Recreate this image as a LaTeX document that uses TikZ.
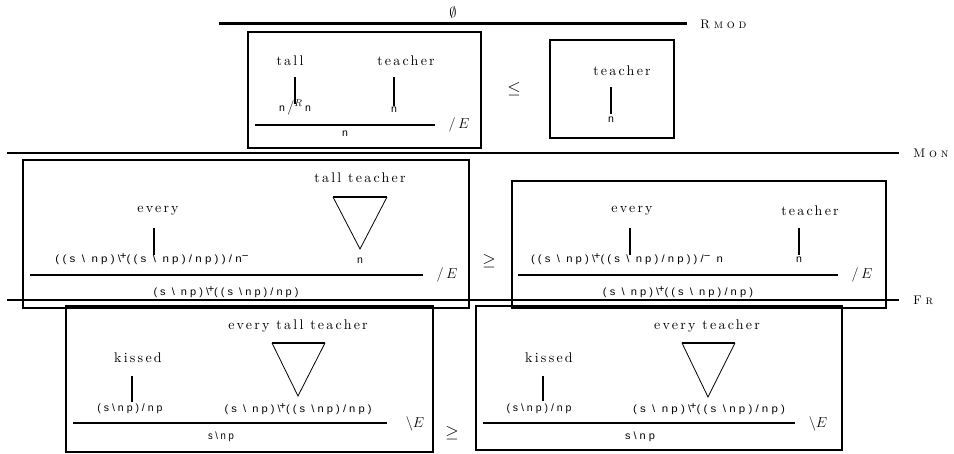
\documentclass[tikz,border=0pt]{standalone}
\usepackage{graphicx}
\usepackage{fontspec}
\newfontfamily\catfont[LetterSpace=28]{Liberation Sans}
\newfontfamily\wordfont{lmroman10-regular.otf}[LetterSpace=16]
\newfontfamily\scfont{lmromancaps10-regular.otf}[LetterSpace=30]
\newcommand\spw[1]{{\fontsize{14}{16}\wordfont #1}}
\newcommand\lab[1]{{\fontsize{12.5}{14}\scfont #1}}
\newcommand\catn[1]{{\fontsize{10.5}{11}\catfont #1}}
\newcommand\catt[2]{\resizebox{#1}{\height}{\catn{#2}}}
\newcommand\bsplus{\textbackslash\kern-1.2pt\raisebox{2.6pt}{+}}
\newcommand\bsl{\textbackslash}
\newcommand\supm{\raisebox{3pt}{−}}
\tikzset{
  txt/.style={inner sep=0pt, outer sep=0pt},
  boxline/.style={line width=1.8pt},
  rule/.style={line width=2pt},
  thinrule/.style={line width=1.5pt},
  stem/.style={line width=1.8pt},
  triside/.style={line width=0.8pt},
  tritop/.style={line width=2pt},
  mth/.style={inner sep=0pt, font=\fontsize{14}{16}\selectfont},
  rel/.style={inner sep=0pt, font=\fontsize{16}{18}\selectfont},
}
\begin{document}
\begin{tikzpicture}[x=1pt,y=-1pt]
\useasboundingbox (0,0) rectangle (954,453);

% ---------- top: RMOD ----------
\node[mth] (empty) at (453,12) {$\emptyset$};
\coordinate (topL) at (219,23);
\coordinate (topR) at (687,23);
\draw[line width=3pt] (topL) -- (topR);
\node[txt, anchor=west] (rmod) at (700,24) {\lab{Rmod}};

% box 1
\node[draw, boxline, minimum width=233pt, minimum height=116pt, anchor=north west] (b1) at (247,31) {};
\node[txt] (w1a) at (290,61) {\spw{tall}};
\node[txt] (w1b) at (406,61) {\spw{teacher}};
\coordinate (s1at) at (295,77); \coordinate (s1ab) at (295,104);
\coordinate (s1bt) at (394,77); \coordinate (s1bb) at (394,106);
\draw[stem] (s1at) -- (s1ab);
\draw[stem] (s1bt) -- (s1bb);
\node[txt] (c1a) at (295,107) {\catn{n}\hspace{2.5pt}{\fontsize{14}{16}\selectfont$/^{R}$}\hspace{2.5pt}\catn{n}};
\node[txt] (c1b) at (394,110) {\catn{n}};
\coordinate (r1L) at (255,125); \coordinate (r1R) at (435,125);
\draw[rule] (r1L) -- (r1R);
\node[txt] (c1c) at (345,134) {\catn{n}};
\node[mth] (e1) at (459,125) {$/\,E$};

\node[rel] (leq) at (514,89) {$\leq$};

% box 2
\node[draw, boxline, minimum width=124pt, minimum height=98pt, anchor=north west] (b2) at (549,39) {};
\node[txt] (w2a) at (622,71) {\spw{teacher}};
\coordinate (s2t) at (611,87); \coordinate (s2b) at (611,114);
\draw[stem] (s2t) -- (s2b);
\node[txt] (c2a) at (611,120) {\catn{n}};

% ---------- MON ----------
\coordinate (monL) at (7,153); \coordinate (monR) at (899,153);
\draw[thinrule] (monL) -- (monR);
\node[txt, anchor=west] (mon) at (913,153) {\lab{Mon}};

% box 3
\node[draw, boxline, minimum width=446pt, minimum height=148pt, anchor=north west] (b3) at (22,159) {};
\node[txt] (w3a) at (360,178) {\spw{tall teacher}};
\node[txt] (w3b) at (158,211) {\spw{every}};
\coordinate (t3l) at (333,197); \coordinate (t3r) at (387,197); \coordinate (t3a) at (360,249);
\draw[triside] (t3l) -- (t3a) -- (t3r);
\draw[tritop] (t3l) -- (t3r);
\coordinate (s3t) at (154,228); \coordinate (s3b) at (154,255);
\draw[stem] (s3t) -- (s3b);
\node[txt] (c3a) at (152,259) {\catt{193pt}{((s \bsl{} np)\bsplus((s \bsl{} np)/np))/n\supm}};
\node[txt] (c3b) at (360,261) {\catn{n}};
\coordinate (r3L) at (30,275); \coordinate (r3R) at (423,275);
\draw[rule] (r3L) -- (r3R);
\node[txt] (c3c) at (226,292) {\catt{145pt}{(s \bsl{} np)\bsplus((s \bsl np)/np)}};
\node[mth] (e3) at (447,275) {$/\,E$};

\node[rel] (geq1) at (489,261) {$\geq$};

% box 4
\node[draw, boxline, minimum width=374pt, minimum height=127pt, anchor=north west] (b4) at (511,180) {};
\node[txt] (w4a) at (632,211) {\spw{every}};
\node[txt] (w4b) at (810,211) {\spw{teacher}};
\coordinate (s4at) at (630,228); \coordinate (s4ab) at (630,255);
\coordinate (s4bt) at (799,228); \coordinate (s4bb) at (799,255);
\draw[stem] (s4at) -- (s4ab);
\draw[stem] (s4bt) -- (s4bb);
\node[txt] (c4a) at (627,259) {\catt{192pt}{((s \bsl{} np)\bsplus((s \bsl{} np)/np))/\supm{} n}};
\node[txt] (c4b) at (799,260) {\catn{n}};
\coordinate (r4L) at (518,275); \coordinate (r4R) at (838,275);
\draw[rule] (r4L) -- (r4R);
\node[txt] (c4c) at (678,292) {\catt{150pt}{(s \bsl{} np)\bsplus((s \bsl{} np)/np)}};
\node[mth] (e4) at (862,275) {$/\,E$};

% ---------- FR ----------
\coordinate (frL) at (7,300); \coordinate (frR) at (899,300);
\draw[thinrule] (frL) -- (frR);
\node[txt, anchor=west] (fr) at (913,300) {\lab{Fr}};

% box 5
\node[draw, boxline, minimum width=367pt, minimum height=146pt, anchor=north west] (b5) at (65,305) {};
\node[txt] (w5a) at (298,326) {\spw{every tall teacher}};
\node[txt] (w5b) at (138,358) {\spw{kissed}};
\coordinate (t5l) at (272,343); \coordinate (t5r) at (325,343); \coordinate (t5a) at (298,396);
\draw[triside] (t5l) -- (t5a) -- (t5r);
\draw[tritop] (t5l) -- (t5r);
\coordinate (s5t) at (132,376); \coordinate (s5b) at (132,402);
\draw[stem] (s5t) -- (s5b);
\node[txt] (c5a) at (130,409) {\catt{65pt}{(s\bsl np)/np}};
\node[txt] (c5b) at (298,409) {\catt{147pt}{(s \bsl{} np)\bsplus((s \bsl np)/np)}};
\coordinate (r5L) at (73,423); \coordinate (r5R) at (387,423);
\draw[rule] (r5L) -- (r5R);
\node[txt] (c5c) at (221,437) {\catt{26pt}{s\bsl np}};
\node[mth] (e5) at (415,424) {$\backslash E$};

\node[rel] (geq2) at (452,433) {$\geq$};

% box 6
\node[draw, boxline, minimum width=366pt, minimum height=144pt, anchor=north west] (b6) at (475,305) {};
\node[txt] (w6a) at (707,326) {\spw{every teacher}};
\node[txt] (w6b) at (549,358) {\spw{kissed}};
\coordinate (t6l) at (682,343); \coordinate (t6r) at (735,343); \coordinate (t6a) at (708,397);
\draw[triside] (t6l) -- (t6a) -- (t6r);
\draw[tritop] (t6l) -- (t6r);
\coordinate (s6t) at (543,376); \coordinate (s6b) at (543,401);
\draw[stem] (s6t) -- (s6b);
\node[txt] (c6a) at (539,409) {\catt{65pt}{(s\bsl np)/np}};
\node[txt] (c6b) at (709,409) {\catt{152pt}{(s \bsl{} np)\bsplus((s \bsl np)/np)}};
\coordinate (r6L) at (483,423); \coordinate (r6R) at (795,423);
\draw[rule] (r6L) -- (r6R);
\node[txt] (c6c) at (640,437) {\catt{30pt}{s\bsl np}};
\node[mth] (e6) at (818,424) {$\backslash E$};
\end{tikzpicture}
\end{document}
